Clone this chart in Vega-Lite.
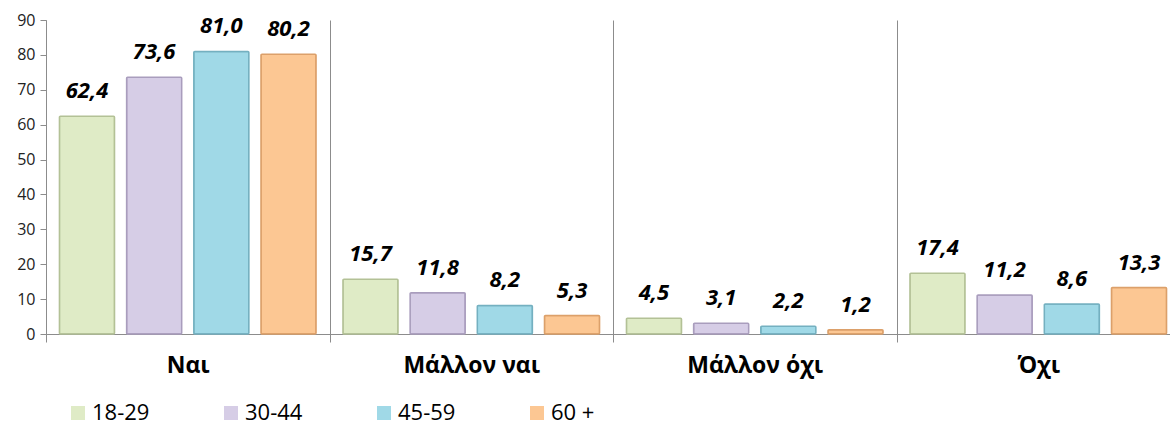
{
  "$schema": "https://vega.github.io/schema/vega-lite/v6.json",
  "width": 1124,
  "height": 314,
  "autosize": {"type": "none"},
  "padding": {"left": 46, "top": 20, "right": 0, "bottom": 92},
  "background": "white",
  "config": {
    "font": "Open Sans",
    "view": {"stroke": null},
    "locale": {"number": {"decimal": ",", "thousands": ".", "grouping": [3], "currency": ["", " €"]}}
  },
  "data": {
    "values": [
      {"answer": "Ναι", "age": "18-29", "value": 62.4},
      {"answer": "Ναι", "age": "30-44", "value": 73.6},
      {"answer": "Ναι", "age": "45-59", "value": 81.0},
      {"answer": "Ναι", "age": "60 +", "value": 80.2},
      {"answer": "Μάλλον ναι", "age": "18-29", "value": 15.7},
      {"answer": "Μάλλον ναι", "age": "30-44", "value": 11.8},
      {"answer": "Μάλλον ναι", "age": "45-59", "value": 8.2},
      {"answer": "Μάλλον ναι", "age": "60 +", "value": 5.3},
      {"answer": "Μάλλον όχι", "age": "18-29", "value": 4.5},
      {"answer": "Μάλλον όχι", "age": "30-44", "value": 3.1},
      {"answer": "Μάλλον όχι", "age": "45-59", "value": 2.2},
      {"answer": "Μάλλον όχι", "age": "60 +", "value": 1.2},
      {"answer": "Όχι", "age": "18-29", "value": 17.4},
      {"answer": "Όχι", "age": "30-44", "value": 11.2},
      {"answer": "Όχι", "age": "45-59", "value": 8.6},
      {"answer": "Όχι", "age": "60 +", "value": 13.3}
    ]
  },
  "encoding": {
    "x": {
      "field": "answer",
      "type": "nominal",
      "sort": ["Ναι", "Μάλλον ναι", "Μάλλον όχι", "Όχι"],
      "scale": {"range": [0, 1134], "paddingInner": 0, "paddingOuter": 0},
      "axis": {
        "title": null,
        "labelAngle": 0,
        "labelFontSize": 23,
        "labelFontWeight": "bold",
        "labelColor": "black",
        "labelPadding": 12,
        "tickBand": "extent",
        "tickSize": 8,
        "tickColor": "#8c8c8c",
        "domainColor": "#8c8c8c",
        "grid": true,
        "gridColor": "#8c8c8c",
        "gridOpacity": 1
      }
    },
    "xOffset": {
      "field": "age",
      "type": "nominal",
      "sort": ["18-29", "30-44", "45-59", "60 +"],
      "scale": {"paddingInner": 0.18, "paddingOuter": 0.2}
    },
    "y": {
      "field": "value",
      "type": "quantitative",
      "scale": {"domain": [0, 90], "nice": false},
      "axis": {
        "title": null,
        "values": [0, 10, 20, 30, 40, 50, 60, 70, 80, 90],
        "labelFontSize": 16,
        "labelColor": "#222222",
        "labelPadding": 5,
        "tickSize": 6,
        "tickColor": "#8c8c8c",
        "domainColor": "#8c8c8c",
        "grid": false
      }
    }
  },
  "layer": [
    {
      "mark": {"type": "bar", "strokeWidth": 1.5, "cornerRadius": 1},
      "encoding": {
        "color": {
          "field": "age",
          "type": "nominal",
          "sort": ["18-29", "30-44", "45-59", "60 +"],
          "scale": {"domain": ["18-29", "30-44", "45-59", "60 +"], "range": ["#dfebc6", "#d6cde6", "#a0d9e7", "#fcc793"]},
          "legend": {
            "orient": "none",
            "legendX": 21,
            "legendY": 382,
            "direction": "horizontal",
            "title": null,
            "padding": 0,
            "labelFontSize": 22,
            "labelColor": "black",
            "labelOffset": 3,
            "symbolType": "square",
            "symbolSize": 196,
            "symbolStrokeWidth": 0,
            "columnPadding": 70
          }
        },
        "stroke": {
          "field": "age",
          "type": "nominal",
          "scale": {"domain": ["18-29", "30-44", "45-59", "60 +"], "range": ["#b3c196", "#a99dbd", "#74b0c0", "#dca06a"]},
          "legend": null
        }
      }
    },
    {
      "mark": {"type": "text", "fontStyle": "italic", "fontWeight": "bold", "fontSize": 22, "baseline": "alphabetic", "dy": -18, "color": "black"},
      "encoding": {
        "text": {"field": "value", "type": "quantitative", "format": ".1f"}
      }
    }
  ]
}
